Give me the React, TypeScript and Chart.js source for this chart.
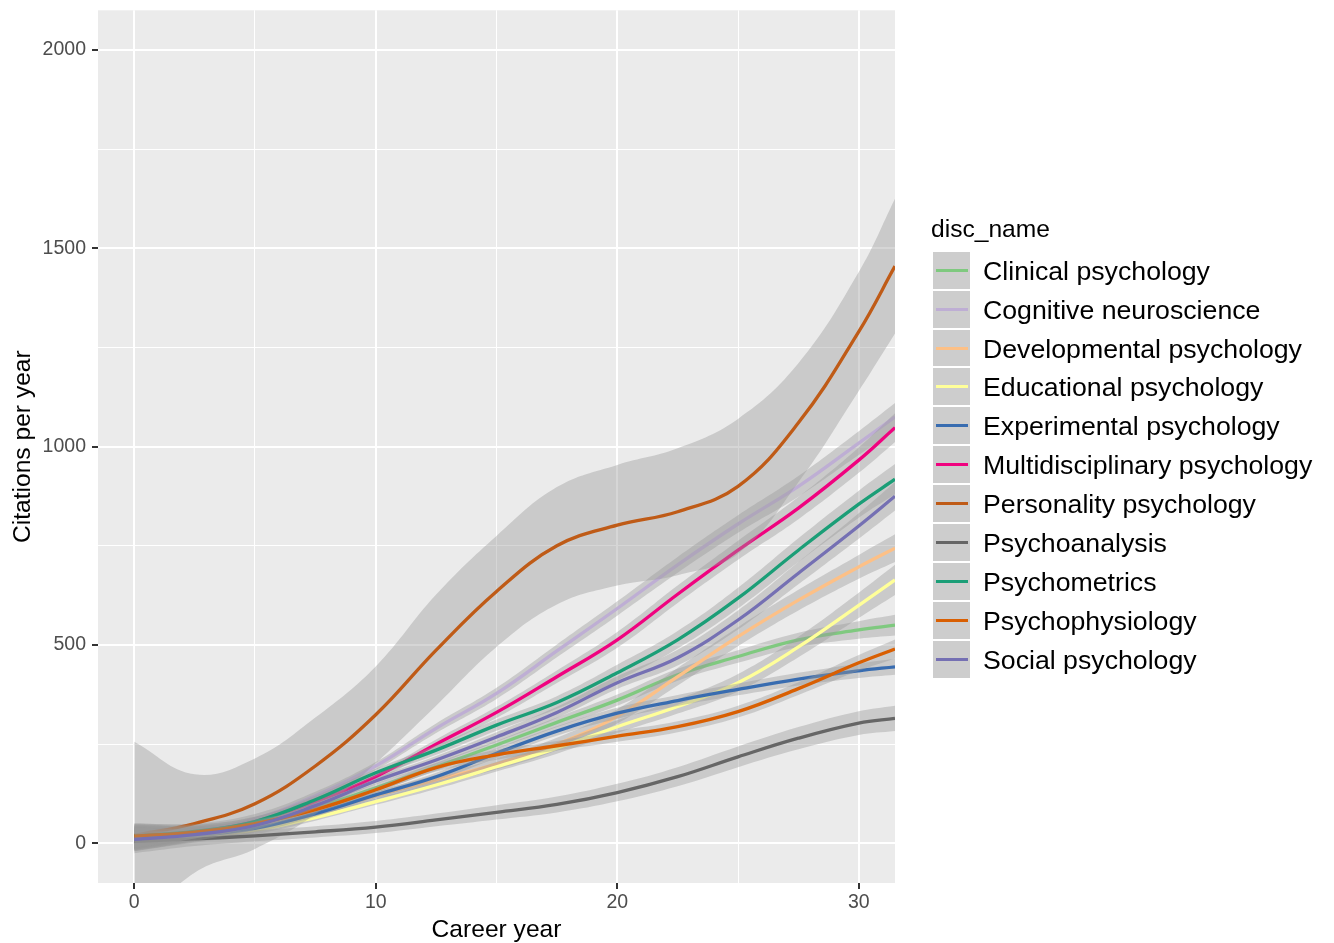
import React, { useEffect, useRef } from 'react';
import { Chart, registerables } from 'chart.js';

Chart.register(...registerables);

const FONT = '"Liberation Sans", Arial, Helvetica, sans-serif';

// Career years at which the smoothed curves were read
const careerYear = [0, 2.5, 5, 7.5, 10, 12.5, 15, 17.5, 20, 22.5, 25, 27.5, 30, 31.5];

const disciplineNames = [
  'Clinical psychology',
  'Cognitive neuroscience',
  'Developmental psychology',
  'Educational psychology',
  'Experimental psychology',
  'Multidisciplinary psychology',
  'Personality psychology',
  'Psychoanalysis',
  'Psychometrics',
  'Psychophysiology',
  'Social psychology',
];

const disciplineColors = [
  '#7FC97F', '#BEAED4', '#FDC086', '#FFFF99', '#386CB0', '#F0027F',
  '#BF5B17', '#666666', '#1B9E77', '#D95F02', '#7570B3',
];

// Smoothed citations per year (fit)
const clinicalFit = [15, 25, 48, 90, 140, 193, 248, 305, 361, 425, 471, 513, 538, 550];
const cognitiveFit = [18, 32, 62, 120, 195, 290, 378, 485, 592, 702, 805, 900, 1009, 1075];
const developmentalFit = [14, 24, 42, 78, 120, 160, 200, 250, 320, 420, 521, 613, 697, 744];
const educationalFit = [10, 18, 33, 65, 105, 147, 193, 240, 294, 345, 405, 495, 600, 664];
const experimentalFit = [12, 20, 38, 75, 122, 168, 227, 283, 328, 360, 388, 414, 435, 445];
const multidisciplinaryFit = [15, 28, 55, 105, 168, 250, 330, 420, 513, 628, 739, 845, 966, 1048];
const personalityFit = [20, 50, 100, 195, 324, 487, 635, 750, 802, 836, 900, 1060, 1290, 1455];
const psychoanalysisFit = [5, 11, 19, 29, 41, 59, 78, 98, 128, 168, 218, 265, 303, 315];
const psychometricsFit = [18, 30, 55, 110, 178, 235, 298, 355, 430, 513, 618, 739, 855, 918];
const psychophysiologyFit = [18, 28, 50, 85, 135, 191, 223, 246, 270, 294, 332, 390, 455, 490];
const socialFit = [10, 22, 45, 95, 157, 210, 268, 330, 405, 468, 563, 681, 800, 875];

// Half-width of the confidence band around each fit
const clinicalBand = [30, 18, 12, 10, 10, 10, 10, 12, 14, 15, 16, 18, 22, 26];
const cognitiveBand = [32, 18, 12, 10, 10, 12, 14, 16, 18, 20, 22, 26, 30, 35];
const developmentalBand = [30, 18, 12, 10, 10, 12, 14, 16, 18, 22, 24, 26, 30, 35];
const educationalBand = [30, 16, 10, 8, 8, 10, 12, 14, 16, 18, 22, 26, 32, 38];
const experimentalBand = [30, 16, 10, 8, 8, 10, 12, 12, 14, 14, 15, 16, 18, 20];
const multidisciplinaryBand = [32, 18, 12, 10, 10, 12, 14, 16, 20, 22, 24, 28, 32, 36];
const personalityBand = [236, 124, 114, 122, 122, 140, 140, 148, 152, 160, 170, 150, 150, 170];
const psychoanalysisBand = [30, 18, 14, 14, 15, 16, 18, 20, 22, 24, 26, 28, 30, 32];
const psychometricsBand = [32, 18, 12, 10, 10, 12, 14, 16, 20, 22, 26, 30, 34, 38];
const psychophysiologyBand = [30, 16, 10, 8, 8, 10, 12, 12, 14, 14, 15, 16, 20, 24];
const socialBand = [30, 16, 10, 8, 8, 10, 12, 14, 16, 20, 24, 28, 32, 36];

const fits = [
  clinicalFit, cognitiveFit, developmentalFit, educationalFit, experimentalFit,
  multidisciplinaryFit, personalityFit, psychoanalysisFit, psychometricsFit,
  psychophysiologyFit, socialFit,
];
const bands = [
  clinicalBand, cognitiveBand, developmentalBand, educationalBand, experimentalBand,
  multidisciplinaryBand, personalityBand, psychoanalysisBand, psychometricsBand,
  psychophysiologyBand, socialBand,
];

// Axis ticks (major labelled, minor unlabelled)
const xGridValues = [0, 5, 10, 15, 20, 25, 30];
const xTickLabels = ['0', '10', '20', '30'];
const yGridValues = [0, 250, 500, 750, 1000, 1250, 1500, 1750, 2000];
const yTickLabels = ['0', '500', '1000', '1500', '2000'];

const RIBBON = 'rgba(153,153,153,0.4)';
const CLEAR = 'rgba(0,0,0,0)';

const panelBackground = {
  id: 'panelBackground',
  beforeDraw(chart: any) {
    const { ctx, chartArea } = chart;
    ctx.save();
    ctx.fillStyle = '#EBEBEB';
    ctx.fillRect(chartArea.left, chartArea.top, chartArea.right - chartArea.left, chartArea.bottom - chartArea.top);
    ctx.restore();
  },
};

function isLabelled(labels: string[], v: number) {
  return labels.indexOf(String(v)) >= 0;
}

export default function App() {
  const canvasRef = useRef<HTMLCanvasElement | null>(null);

  useEffect(() => {
    const canvas = canvasRef.current;
    if (!canvas) return;
    const datasets: any[] = [];
    fits.forEach((fit, k) => {
      const band = bands[k];
      const base = 1000 - 3 * k;
      const common = {
        pointRadius: 0,
        pointHoverRadius: 0,
        tension: 0.4,
        clip: 0,
      };
      datasets.push({
        ...common,
        label: disciplineNames[k] + ' lower',
        data: careerYear.map((x, i) => ({ x, y: fit[i] - band[i] })),
        borderWidth: 0,
        borderColor: CLEAR,
        fill: false,
        order: base,
      });
      datasets.push({
        ...common,
        label: disciplineNames[k] + ' upper',
        data: careerYear.map((x, i) => ({ x, y: fit[i] + band[i] })),
        borderWidth: 0,
        borderColor: CLEAR,
        backgroundColor: RIBBON,
        fill: '-1',
        order: base - 1,
      });
      datasets.push({
        ...common,
        label: disciplineNames[k],
        data: careerYear.map((x, i) => ({ x, y: fit[i] })),
        borderWidth: 3.3,
        borderColor: disciplineColors[k],
        fill: false,
        order: base - 2,
      });
    });

    const tickFont = { family: FONT, size: 19.5 };
    const titleFont = { family: FONT, size: 24.6 };

    const chart = new Chart(canvas, {
      type: 'line',
      data: { datasets },
      plugins: [panelBackground],
      options: {
        animation: false,
        responsive: false,
        events: [],
        layout: { padding: { left: 0, top: 10.3, right: 439, bottom: 0 } },
        plugins: { legend: { display: false }, tooltip: { enabled: false } },
        scales: {
          x: {
            type: 'linear',
            min: -1.5,
            max: 31.5,
            afterBuildTicks: (s: any) => {
              s.ticks = xGridValues.map((v) => ({ value: v }));
            },
            afterFit: (s: any) => {
              s.height = 60;
              s.paddingLeft = 0; s.paddingRight = 0; s.paddingTop = 0; s.paddingBottom = 0;
            },
            border: { display: false },
            grid: {
              color: '#FFFFFF',
              lineWidth: (c: any) => (c.tick && isLabelled(xTickLabels, c.tick.value) ? 2 : 1),
              tickColor: (c: any) => (c.tick && isLabelled(xTickLabels, c.tick.value) ? '#333333' : CLEAR),
              tickLength: 6,
              tickWidth: 2,
            },
            ticks: {
              autoSkip: false,
              maxRotation: 0,
              padding: 2,
              color: '#4D4D4D',
              font: tickFont,
              callback: (v: any) => (isLabelled(xTickLabels, Number(v)) ? String(v) : ''),
            },
            title: {
              display: true,
              text: 'Career year',
              color: '#000000',
              font: titleFont,
              padding: { top: 0, bottom: -2.3 },
            },
          },
          y: {
            type: 'linear',
            min: -100,
            max: 2100,
            afterBuildTicks: (s: any) => {
              s.ticks = yGridValues.map((v) => ({ value: v }));
            },
            afterFit: (s: any) => {
              s.width = 98;
              s.paddingLeft = 0; s.paddingRight = 0; s.paddingTop = 0; s.paddingBottom = 0;
            },
            border: { display: false },
            grid: {
              color: '#FFFFFF',
              lineWidth: (c: any) => (c.tick && isLabelled(yTickLabels, c.tick.value) ? 2 : 1),
              tickColor: (c: any) => (c.tick && isLabelled(yTickLabels, c.tick.value) ? '#333333' : CLEAR),
              tickLength: 6,
              tickWidth: 2,
            },
            ticks: {
              autoSkip: false,
              padding: 6,
              color: '#4D4D4D',
              font: tickFont,
              callback: (v: any) => (isLabelled(yTickLabels, Number(v)) ? String(v) : ''),
            },
            title: {
              display: true,
              text: 'Citations per year',
              color: '#000000',
              font: titleFont,
              padding: { top: 8.2, bottom: 0 },
            },
          },
        },
      } as any,
    });
    return () => chart.destroy();
  }, []);

  const keyTop = 250.7;
  const keyStep = 38.93;

  return (
    <div style={{ position: 'absolute', left: 0, top: 0, width: 1334, height: 943, background: '#FFFFFF', overflow: 'hidden' }}>
      <canvas ref={canvasRef} width={1334} height={943} style={{ display: 'block', width: 1334, height: 943 }} />
      <div
        style={{
          position: 'absolute', left: 931, top: 213.5, fontFamily: FONT, fontSize: 24.6,
          lineHeight: '30px', color: '#000000', whiteSpace: 'nowrap',
        }}
      >
        disc_name
      </div>
      {disciplineNames.map((name, i) => (
        <React.Fragment key={name}>
          <div
            style={{
              position: 'absolute', left: 932, top: keyTop + i * keyStep, width: 39, height: keyStep,
              boxSizing: 'border-box', border: '0.6px solid #FFFFFF', background: '#CDCDCD',
            }}
          />
          <div
            style={{
              position: 'absolute', left: 936, top: keyTop + i * keyStep + keyStep / 2 - 1.5, width: 32, height: 3,
              background: disciplineColors[i],
            }}
          />
          <div
            style={{
              position: 'absolute', left: 983, top: keyTop + i * keyStep + 1, height: keyStep,
              lineHeight: keyStep + 'px', fontFamily: FONT, fontSize: 26.7, color: '#000000', whiteSpace: 'nowrap',
            }}
          >
            {name}
          </div>
        </React.Fragment>
      ))}
    </div>
  );
}
